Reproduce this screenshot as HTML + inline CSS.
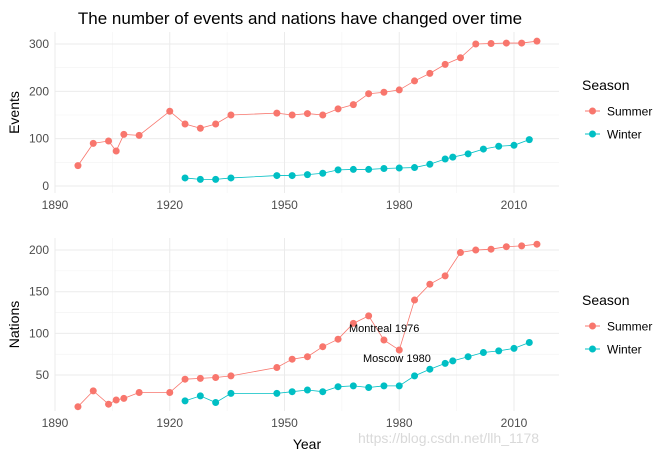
<!DOCTYPE html>
<html><head><meta charset="utf-8"><style>
body{margin:0;background:#fff;font-family:"Liberation Sans",sans-serif}
svg text{font-family:"Liberation Sans",sans-serif}
</style></head><body>
<svg id="c" width="669" height="457">
<text x="300" y="24" text-anchor="middle" font-size="17" fill="#000">The number of events and nations have changed over time</text>
</svg>
<script>
const summerYears=[1896,1900,1904,1906,1908,1912,1920,1924,1928,1932,1936,1948,1952,1956,1960,1964,1968,1972,1976,1980,1984,1988,1992,1996,2000,2004,2008,2012,2016];
const summerEvents=[43,90,95,74,109,107,158,131,122,131,150,154,150,153,150,163,172,195,198,203,222,238,257,271,300,301,302,302,306];
const summerNations=[12,31,15,20,22,29,29,45,46,47,49,59,69,72,84,93,112,121,92,80,140,159,169,197,200,201,204,205,207];
const winterYears=[1924,1928,1932,1936,1948,1952,1956,1960,1964,1968,1972,1976,1980,1984,1988,1992,1994,1998,2002,2006,2010,2014];
const winterEvents=[17,14,14,17,22,22,24,27,34,35,35,37,38,39,46,57,61,68,78,84,86,98];
const winterNations=[19,25,17,28,28,30,32,30,36,37,35,37,37,49,57,64,67,72,77,79,82,89];
const xTicks=[1890,1920,1950,1980,2010];
const evTicks=[0,100,200,300];
const naTicks=[50,100,150,200];

const svg=document.getElementById('c');
const NS='http://www.w3.org/2000/svg';
function mk(t,a,p){const e=document.createElementNS(NS,t);for(const k in a)e.setAttribute(k,a[k]);(p||svg).appendChild(e);return e;}
const X0=55,X1=559;
const x=y=>55+(y-1890)*3.825;
function panel(name,top,bot,yfun,ticks,minor,ylab,sVals,wVals,legY){
  const g=mk('g',{});
  
  
  minor.forEach(v=>mk('line',{x1:X0,x2:X1,y1:yfun(v),y2:yfun(v),stroke:'#f2f2f2','stroke-width':0.6},g));
  for(let yr=1905;yr<=1995;yr+=30)mk('line',{x1:x(yr),x2:x(yr),y1:top,y2:bot,stroke:'#f2f2f2','stroke-width':0.6},g);
  ticks.forEach(v=>{mk('line',{x1:X0,x2:X1,y1:yfun(v),y2:yfun(v),stroke:'#ebebeb','stroke-width':1},g);
    const t=mk('text',{x:X0-6,y:yfun(v)+4,'text-anchor':'end','font-size':12,fill:'#4d4d4d'},g);t.textContent=v;
    
    });
  xTicks.forEach(v=>{mk('line',{x1:x(v),x2:x(v),y1:top,y2:bot,stroke:'#ebebeb','stroke-width':1},g);
    const t=mk('text',{x:x(v),y:bot+16,'text-anchor':'middle','font-size':12,fill:'#4d4d4d'},g);t.textContent=v;
    
    });
  const yl=mk('text',{transform:`translate(19,${(top+bot)/2}) rotate(-90)`,'text-anchor':'middle','font-size':14,fill:'#000'},g);yl.textContent=ylab;
  
  
  [[summerYears,sVals,'#F8766D','summer'],[winterYears,wVals,'#00BFC4','winter']].forEach(([xs,vs,col,nm])=>{
    const l=mk('polyline',{points:xs.map((a,i)=>x(a)+','+yfun(vs[i])).join(' '),fill:'none',stroke:col,'stroke-width':0.8},g);
    
    
    xs.forEach((a,i)=>{const c=mk('circle',{cx:x(a),cy:yfun(vs[i]),r:3.5,fill:col},g);
      
      });
  });
  const lg=mk('g',{},g);
  
  
  const lt=mk('text',{x:582,y:legY,'font-size':14,fill:'#000'},lg);lt.textContent='Season';
  [['Summer','#F8766D'],['Winter','#00BFC4']].forEach(([n,col],i)=>{
    const yy=legY+21+i*23;
    const e=mk('g',{},lg);
    
    
    mk('line',{x1:585,x2:600,y1:yy,y2:yy,stroke:col,'stroke-width':1},e);
    mk('circle',{cx:592.5,cy:yy,r:3.5,fill:col},e);
    const t=mk('text',{x:607,y:yy+4.5,'font-size':12,fill:'#000'},e);t.textContent=n;
  });
  return g;
}
const yE=v=>186-v*0.4733;
const yN=v=>416.7-v*0.8333;
panel('events-panel',32,193,yE,evTicks,[50,150,250],'Events',summerEvents,winterEvents,90);
const g2=panel('nations-panel',238,411,yN,naTicks,[75,125,175],'Nations',summerNations,winterNations,305);
const a1=mk('text',{x:349,y:332,'font-size':11,fill:'#000'},g2);a1.textContent='Montreal 1976';


const a2=mk('text',{x:363,y:362,'font-size':11,fill:'#000'},g2);a2.textContent='Moscow 1980';


const xt=mk('text',{x:307,y:449,'text-anchor':'middle','font-size':14,fill:'#000'});xt.textContent='Year';


const wm=mk('text',{x:358,y:443,'font-size':14,fill:'#d9d9d9'});wm.textContent='https://blog.csdn.net/llh_1178';


</script>
</body></html>
